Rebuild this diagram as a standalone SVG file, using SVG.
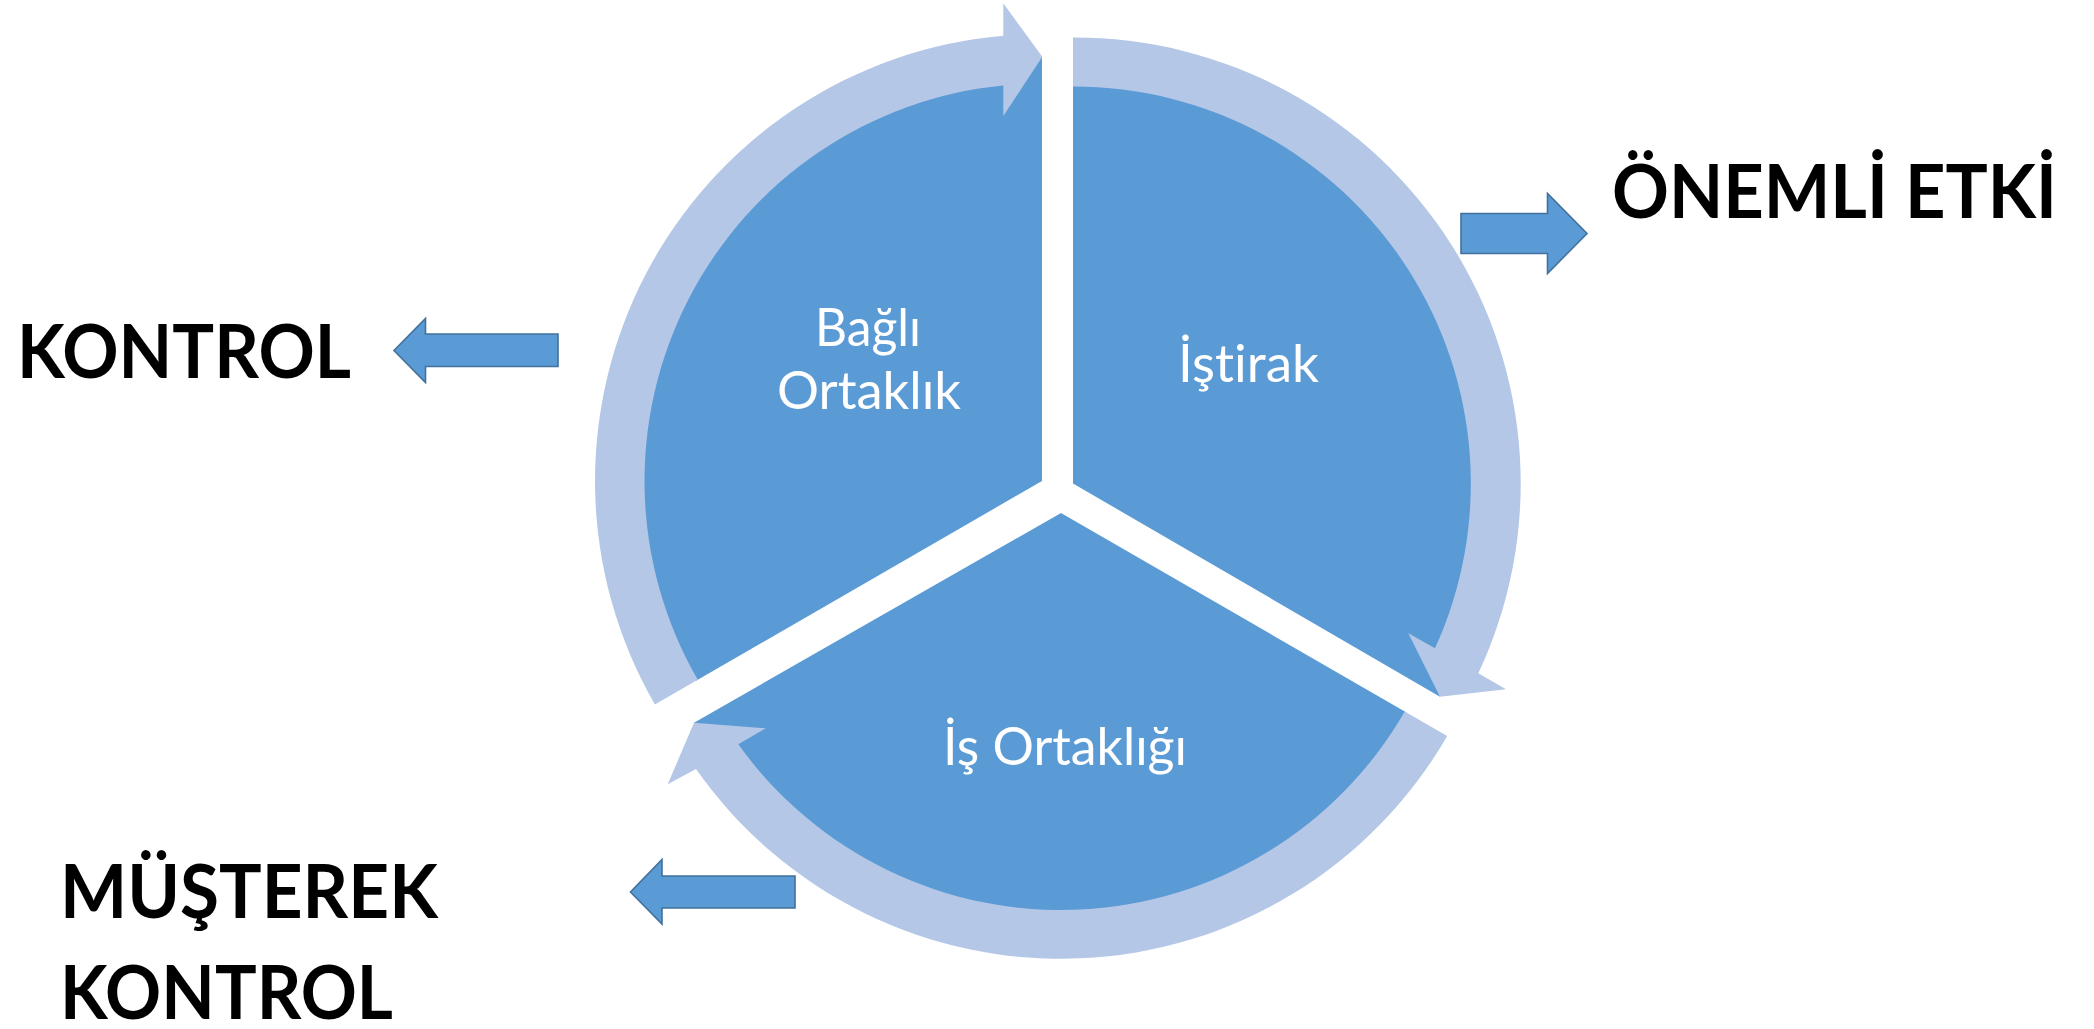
<svg xmlns="http://www.w3.org/2000/svg" width="2094" height="1029" viewBox="0 0 2094 1029">
  <style>
    .slice { fill: #5B9BD5; }
    .ring { fill: #B4C7E7; }
    .block { fill: #5B9BD5; stroke: #41719C; stroke-width: 1.6; stroke-linejoin: miter; }
    text { font-variant-ligatures: none; }
    .inner { font-family: Lato, "Open Sans", "Liberation Sans", sans-serif; font-size: 53px; fill: #FFFFFF; text-anchor: middle; }
    .label { font-family: Lato, "Open Sans", "Liberation Sans", sans-serif; font-weight: 700; font-size: 74px; fill: #000000; }
  </style>
  <rect x="0" y="0" width="2094" height="1029" fill="#FFFFFF"/>

  <!-- pie segments (each reaches out to the tip of the arrow that ends on its edge) -->
  <g id="node-bagli-ortaklik">
    <path class="slice" d="M 1042 481 L 1042 56.7 L 1003.3 82.9 A 400 400 0 0 0 695.6 681 Z"/>
    <text class="inner" x="868" y="346" textLength="106" lengthAdjust="spacingAndGlyphs">Bağlı</text>
    <text class="inner" x="869" y="409" textLength="184" lengthAdjust="spacingAndGlyphs">Ortaklık</text>
  </g>
  <g id="node-istirak">
    <path class="slice" d="M 1073 483.5 L 1073 84 A 399.5 399.5 0 0 1 1436.6 649 L 1440 696.7 Z"/>
    <text class="inner" x="1248.5" y="382" textLength="141" lengthAdjust="spacingAndGlyphs">İştirak</text>
  </g>
  <g id="node-is-ortakligi">
    <path class="slice" d="M 1061 513 L 1406.5 712.5 A 399 399 0 0 1 736.7 745.5 L 694 722.7 Z"/>
    <text class="inner" x="1065" y="765" textLength="244" lengthAdjust="spacingAndGlyphs">İş Ortaklığı</text>
  </g>

  <!-- outside labels -->
  <g id="node-kontrol">
    <text class="label" x="17" y="378" textLength="334" lengthAdjust="spacingAndGlyphs">KONTROL</text>
  </g>
  <g id="node-onemli-etki">
    <text class="label" x="1612" y="218" textLength="445" lengthAdjust="spacingAndGlyphs">ÖNEMLİ ETKİ</text>
  </g>
  <g id="node-musterek-kontrol">
    <text class="label" x="60" y="918" textLength="378" lengthAdjust="spacingAndGlyphs">MÜŞTEREK</text>
    <text class="label" x="60" y="1019" textLength="333" lengthAdjust="spacingAndGlyphs">KONTROL</text>
  </g>

  <g id="connectors">
    <!-- circular arrows around each segment -->
    <path class="ring" d="M 654.9 704.5 A 447 447 0 0 1 1003.3 35.7 L 1003.3 3.3 L 1042.3 56.7 L 1003.3 116 L 1003.3 85.4 A 397.5 397.5 0 0 0 697.8 679.8 Z"/>
    <path class="ring" d="M 1073 37.5 A 446 446 0 0 1 1478.3 673.3 L 1506 689.3 L 1440 696.7 L 1408.3 633.3 L 1435 648.3 A 397 397 0 0 0 1073 86.5 Z"/>
    <path class="ring" d="M 1447.2 736 A 446 446 0 0 1 696 769 L 667.7 784.3 L 694 722.7 L 765.7 728.3 L 738.3 744.3 A 397 397 0 0 0 1404.8 711.5 Z"/>

    <!-- block arrows pointing to the labels -->
    <polygon class="block" points="558,334 425.5,334 425.5,318.5 394,350.5 425.5,382.5 425.5,366.5 558,366.5"/>
    <polygon class="block" points="1461,213.5 1547.5,213.5 1547.5,193.5 1587,233.5 1547.5,273.5 1547.5,253.5 1461,253.5"/>
    <polygon class="block" points="795,876 662,876 662,859.5 630.5,892 662,924 662,908 795,908"/>
  </g>
</svg>
